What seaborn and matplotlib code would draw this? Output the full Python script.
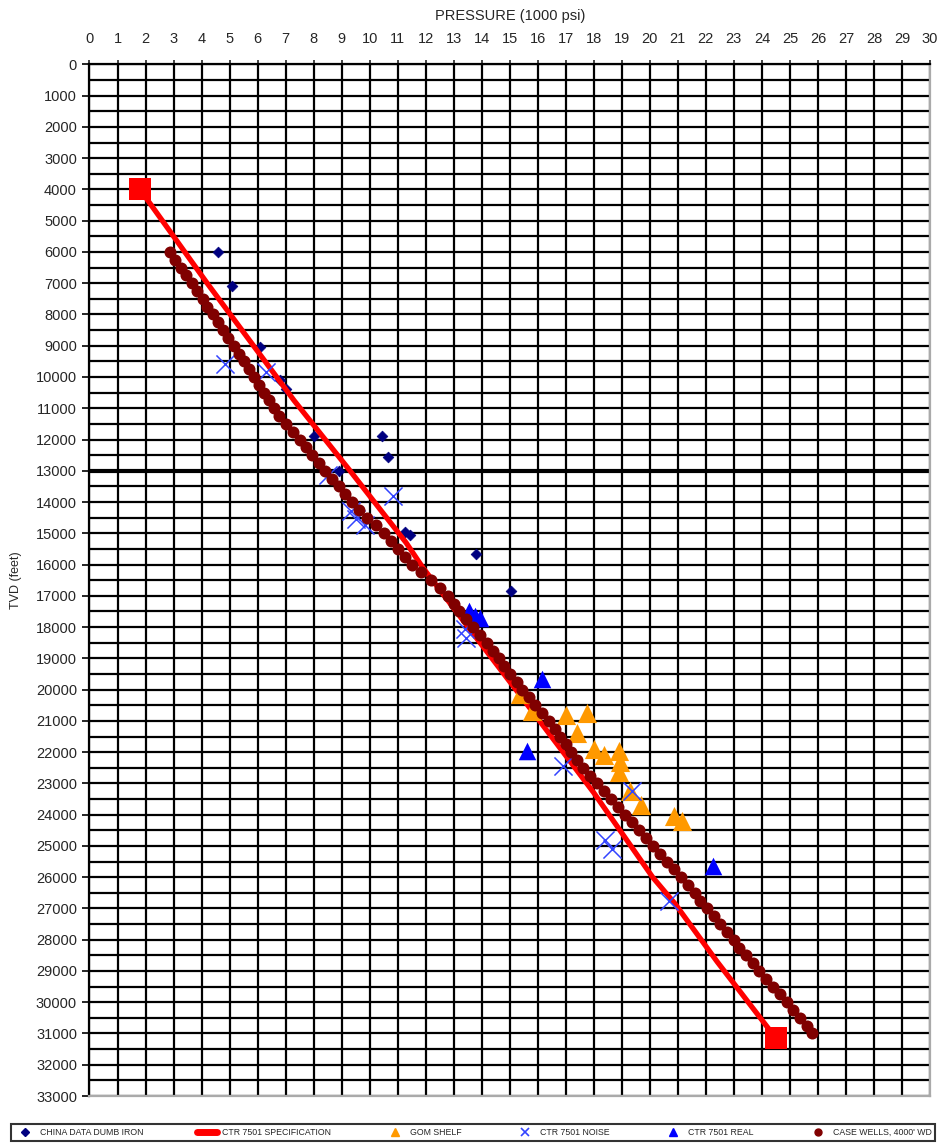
import matplotlib
matplotlib.use("Agg")
import matplotlib.pyplot as plt
import seaborn as sns
import numpy as np
import pandas as pd
from matplotlib.lines import Line2D

# ---------------- data ----------------
china_x = [4.6, 5.1, 6.1, 6.8, 7.0, 8.0, 10.45, 10.65, 8.9, 11.25, 11.45, 13.8, 15.05]
china_y = [6000, 7100, 9050, 10100, 10400, 11900, 11900, 12550, 13000, 14950, 15050, 15650, 16850]

spec_x = [1.8, 4.2, 7.3, 9.3, 11.3, 11.9, 13.6, 15.6, 18.0, 20.1, 20.9, 22.4, 24.5]
spec_y = [4000, 7000, 10750, 13000, 15300, 16100, 18100, 20450, 23300, 26000, 26850, 28700, 31150]

gom_x = [15.35, 15.8, 17.0, 17.75, 17.4, 18.0, 18.35, 18.9, 18.95, 18.9, 19.3, 19.7, 20.85, 21.15]
gom_y = [20150, 20700, 20800, 20750, 21400, 21900, 22100, 21950, 22300, 22650, 23250, 23700, 24050, 24200]

noise_x = [4.85, 6.3, 8.5, 10.85, 9.35, 9.5, 9.85, 13.4, 13.45, 16.9, 19.35, 18.4, 18.65, 20.7]
noise_y = [9600, 9850, 13150, 13800, 14300, 14550, 14750, 18050, 18350, 22450, 23250, 24800, 25100, 26750]

real_x = [13.55, 13.75, 13.95, 16.15, 15.6, 22.25]
real_y = [17500, 17650, 17700, 19650, 21950, 25650]

case_y = list(range(6000, 31001, 250))
case_x = [2.87, 3.05, 3.25, 3.45, 3.65, 3.85, 4.05, 4.2, 4.4, 4.58, 4.78, 4.95, 5.15,
          5.32, 5.5, 5.68, 5.86, 6.05, 6.22, 6.4, 6.58, 6.78, 7.0, 7.25, 7.5, 7.72,
          7.95, 8.18, 8.42, 8.66, 8.9, 9.12, 9.36, 9.62, 9.92, 10.22, 10.5, 10.75,
          11.0, 11.25, 11.5, 11.85, 12.2, 12.5, 12.8, 13.0, 13.2, 13.45, 13.7, 13.95,
          14.2, 14.4, 14.6, 14.8, 15.0, 15.25, 15.45, 15.7, 15.9, 16.15, 16.4, 16.6,
          16.8, 17.0, 17.2, 17.4, 17.6, 17.85, 18.1, 18.35, 18.6, 18.85, 19.1, 19.35,
          19.6, 19.85, 20.1, 20.35, 20.6, 20.85, 21.1, 21.35, 21.6, 21.8, 22.05, 22.3,
          22.5, 22.75, 23.0, 23.2, 23.45, 23.7, 23.9, 24.15, 24.4, 24.65, 24.9, 25.1,
          25.35, 25.6, 25.8]

x_ticks = list(range(0, 31))
y_ticks = list(range(0, 33001, 1000))

labels = ["CHINA DATA DUMB IRON", "CTR 7501 SPECIFICATION", "GOM SHELF",
          "CTR 7501 NOISE", "CTR 7501 REAL", "CASE WELLS, 4000' WD"]

# ---------------- style ----------------
sns.set_style("white")
plt.rcParams['font.family'] = ['Liberation Sans', 'DejaVu Sans']

fig = plt.figure(figsize=(9.41, 11.43), dpi=100)
ax = fig.add_axes([0.0951, 0.0411, 0.8932, 0.9026])

# grid
ax.set_xlim(0, 30)
ax.set_ylim(33000, 0)
ax.set_xticks(x_ticks)
ax.set_yticks(y_ticks)
ax.set_yticks(list(range(500, 33000, 1000)), minor=True)
ax.grid(True, which='major', color='black', linewidth=1.6, zorder=0)
ax.grid(True, which='minor', axis='y', color='black', linewidth=1.6, zorder=0)
ax.set_axisbelow(True)
ax.axhline(13000, color='black', linewidth=3.0, zorder=1)

# series
sns.scatterplot(x=china_x, y=china_y, ax=ax, marker='D', s=30, color='#000080',
                edgecolor='#000080', linewidth=0.5, zorder=3)
sns.lineplot(x=spec_x, y=spec_y, ax=ax, sort=False, estimator=None, color='#FF0000',
             linewidth=3.8, zorder=4)
sns.scatterplot(x=[spec_x[0], spec_x[-1]], y=[spec_y[0], spec_y[-1]], ax=ax, marker='s',
                s=230, color='#FF0000', edgecolor='#FF0000', linewidth=0, zorder=4)
sns.scatterplot(x=gom_x, y=gom_y, ax=ax, marker='^', s=190, color='#FF9900',
                edgecolor='#FF9900', linewidth=0, zorder=5)
sns.scatterplot(x=noise_x, y=noise_y, ax=ax, marker='x', s=170, color='#3344FF',
                linewidth=1.1, zorder=6)
sns.scatterplot(x=real_x, y=real_y, ax=ax, marker='^', s=160, color='#0000FF',
                edgecolor='#0000FF', linewidth=0, zorder=7)
sns.scatterplot(x=case_x, y=case_y, ax=ax, marker='o', s=75, color='#800000',
                edgecolor='#800000', linewidth=0, zorder=8)

# axes formatting
ax.xaxis.tick_top()
ax.xaxis.set_label_position('top')
ax.tick_params(axis='x', which='major', top=True, bottom=False, length=3, width=1.2,
               pad=10, labelsize=10.5, direction='out')
ax.tick_params(axis='y', which='major', left=True, length=5, width=1.4, pad=4,
               labelsize=10.5, direction='out')
ax.tick_params(axis='y', which='minor', left=False)
ax.set_xlabel("PRESSURE (1000 psi)", fontsize=10.5, labelpad=9)
ax.set_ylabel("TVD (feet)", fontsize=9, labelpad=10)

for side in ['left', 'top']:
    ax.spines[side].set_color('black')
    ax.spines[side].set_linewidth(1.6)
for side in ['right', 'bottom']:
    ax.spines[side].set_color('#aaaaaa')
    ax.spines[side].set_linewidth(1.6)

# legend
handles = [
    Line2D([], [], marker='D', color='#000080', linestyle='none', markersize=4),
    Line2D([], [], color='#FF0000', linewidth=5),
    Line2D([], [], marker='^', color='#FF9900', linestyle='none', markersize=6),
    Line2D([], [], marker='x', color='#3344FF', linestyle='none', markersize=6, markeredgewidth=1.2),
    Line2D([], [], marker='^', color='#0000FF', linestyle='none', markersize=6),
    Line2D([], [], marker='o', color='#800000', linestyle='none', markersize=5),
]
leg = fig.legend(handles, labels, loc='upper left',
                 bbox_to_anchor=(0.012, 0.0166, 0.982, 0.0),
                 ncol=6, mode='expand', fontsize=6.3, frameon=True, fancybox=False,
                 handlelength=2.2, handletextpad=0.6, borderaxespad=0, borderpad=0.45,
                 columnspacing=1.0)
leg.get_frame().set_edgecolor('black')
leg.get_frame().set_linewidth(1.5)

fig.savefig("out.png", dpi=100)
